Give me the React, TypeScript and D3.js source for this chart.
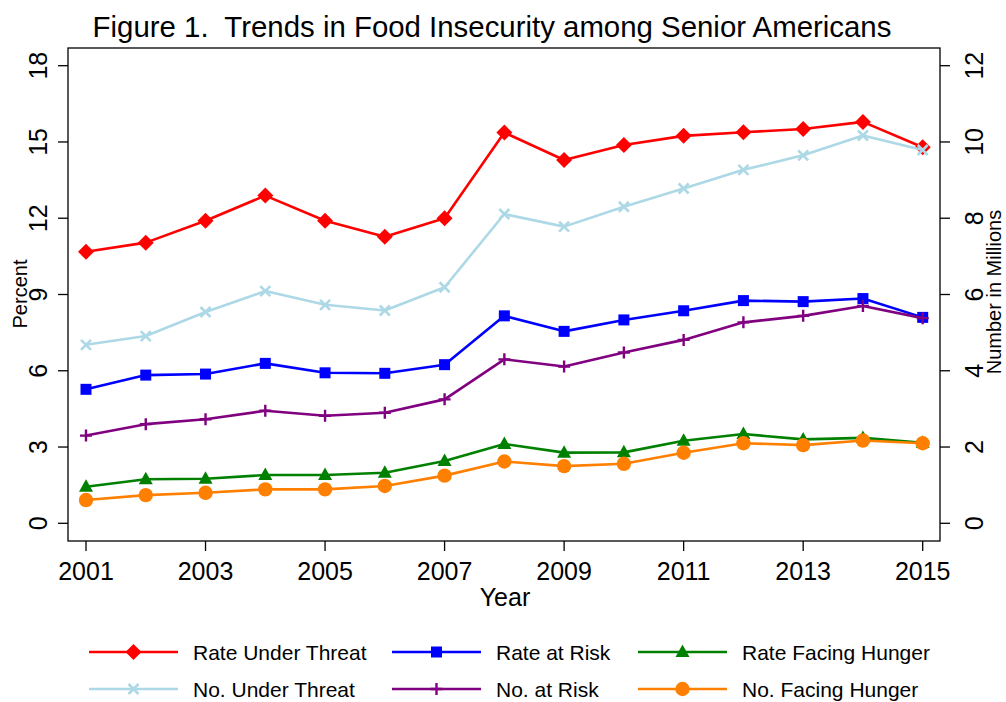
import React, { useEffect, useRef } from 'react';
import * as d3 from 'd3';

// Years on the x axis.
const years = [2001, 2002, 2003, 2004, 2005, 2006, 2007, 2008, 2009, 2010, 2011, 2012, 2013, 2014, 2015];

// Rates (percent, left axis).
const rateUnderThreat = [10.68, 11.04, 11.9, 12.89, 11.9, 11.27, 12.0, 15.37, 14.29, 14.88, 15.24, 15.38, 15.51, 15.79, 14.79];
const rateAtRisk = [5.27, 5.83, 5.87, 6.29, 5.92, 5.9, 6.24, 8.16, 7.55, 8.0, 8.36, 8.76, 8.72, 8.84, 8.1];
const rateFacingHunger = [1.44, 1.73, 1.75, 1.9, 1.9, 1.99, 2.45, 3.12, 2.78, 2.79, 3.25, 3.51, 3.3, 3.36, 3.17];

// Numbers (millions, right axis).
const noUnderThreat = [4.68, 4.91, 5.54, 6.09, 5.73, 5.58, 6.19, 8.11, 7.78, 8.3, 8.78, 9.27, 9.65, 10.17, 9.79];
const noAtRisk = [2.3, 2.6, 2.73, 2.95, 2.82, 2.9, 3.25, 4.3, 4.11, 4.48, 4.81, 5.27, 5.44, 5.7, 5.38];
const noFacingHunger = [0.61, 0.74, 0.8, 0.89, 0.89, 0.98, 1.25, 1.62, 1.5, 1.56, 1.85, 2.1, 2.05, 2.17, 2.1];

const xTicks = [2001, 2003, 2005, 2007, 2009, 2011, 2013, 2015];
const leftTicks = [0, 3, 6, 9, 12, 15, 18];
const rightTicks = [0, 2, 4, 6, 8, 10, 12];

type Marker = 'diamond' | 'square' | 'triangle' | 'times' | 'plus' | 'circle';

const series: { label: string; values: number[]; axis: 'left' | 'right'; color: string; marker: Marker }[] = [
  { label: 'Rate Under Threat', values: rateUnderThreat, axis: 'left', color: '#ff0000', marker: 'diamond' },
  { label: 'Rate at Risk', values: rateAtRisk, axis: 'left', color: '#0000ff', marker: 'square' },
  { label: 'Rate Facing Hunger', values: rateFacingHunger, axis: 'left', color: '#008000', marker: 'triangle' },
  { label: 'No. Under Threat', values: noUnderThreat, axis: 'right', color: '#add8e6', marker: 'times' },
  { label: 'No. at Risk', values: noAtRisk, axis: 'right', color: '#800080', marker: 'plus' },
  { label: 'No. Facing Hunger', values: noFacingHunger, axis: 'right', color: '#ff8000', marker: 'circle' },
];

const FONT = '"Liberation Sans", Arial, sans-serif';

function drawMarker(g, kind: Marker, color: string) {
  if (kind === 'diamond') {
    g.append('path').attr('d', 'M0,-8L8,0L0,8L-8,0Z').attr('fill', color);
  } else if (kind === 'square') {
    g.append('rect').attr('x', -5.5).attr('y', -5.5).attr('width', 11).attr('height', 11).attr('fill', color);
  } else if (kind === 'triangle') {
    g.append('path').attr('d', 'M0,-7.5L7,5L-7,5Z').attr('fill', color);
  } else if (kind === 'circle') {
    g.append('circle').attr('r', 7.2).attr('fill', color);
  } else if (kind === 'times') {
    g.append('path')
      .attr('d', 'M-5,-5L5,5M-5,5L5,-5')
      .attr('stroke', color)
      .attr('stroke-width', 2.6)
      .attr('fill', 'none');
  } else {
    g.append('path')
      .attr('d', 'M-6,0L6,0M0,-6L0,6')
      .attr('stroke', color)
      .attr('stroke-width', 2.4)
      .attr('fill', 'none');
  }
}

export default function App() {
  const ref = useRef<SVGSVGElement>(null);

  useEffect(() => {
    const svg = d3.select(ref.current);
    svg.selectAll('*').remove();

    const plot = { left: 68, right: 940, top: 48, bottom: 541 };

    const x = d3.scaleLinear().domain([2001, 2015]).range([86, 922.7]);
    const yLeft = d3.scaleLinear().domain([0, 18]).range([523.3, 65.7]);
    const yRight = d3.scaleLinear().domain([0, 12]).range([523.3, 65.7]);

    // Title
    svg
      .append('text')
      .attr('x', 492)
      .attr('y', 37)
      .attr('text-anchor', 'middle')
      .style('font-size', '29.4px')
      .style('white-space', 'pre')
      .text('Figure 1.  Trends in Food Insecurity among Senior Americans');

    // Plot frame
    svg
      .append('rect')
      .attr('x', plot.left)
      .attr('y', plot.top)
      .attr('width', plot.right - plot.left)
      .attr('height', plot.bottom - plot.top)
      .attr('fill', 'none')
      .attr('stroke', '#000')
      .attr('stroke-width', 1.3);

    // Left axis
    const left = svg.append('g');
    left
      .selectAll('line')
      .data(leftTicks)
      .enter()
      .append('line')
      .attr('x1', plot.left - 10)
      .attr('x2', plot.left)
      .attr('y1', (d) => yLeft(d))
      .attr('y2', (d) => yLeft(d))
      .attr('stroke', '#000')
      .attr('stroke-width', 1.3);
    left
      .selectAll('text')
      .data(leftTicks)
      .enter()
      .append('text')
      .attr('transform', (d) => `translate(47,${yLeft(d)}) rotate(-90)`)
      .attr('text-anchor', 'middle')
      .style('font-size', '25px')
      .text((d) => d);

    // Right axis
    const right = svg.append('g');
    right
      .selectAll('line')
      .data(rightTicks)
      .enter()
      .append('line')
      .attr('x1', plot.right)
      .attr('x2', plot.right + 10)
      .attr('y1', (d) => yRight(d))
      .attr('y2', (d) => yRight(d))
      .attr('stroke', '#000')
      .attr('stroke-width', 1.3);
    right
      .selectAll('text')
      .data(rightTicks)
      .enter()
      .append('text')
      .attr('transform', (d) => `translate(983,${yRight(d)}) rotate(-90)`)
      .attr('text-anchor', 'middle')
      .style('font-size', '25px')
      .text((d) => d);

    // Bottom axis
    const bottom = svg.append('g');
    bottom
      .selectAll('line')
      .data(xTicks)
      .enter()
      .append('line')
      .attr('x1', (d) => x(d))
      .attr('x2', (d) => x(d))
      .attr('y1', plot.bottom)
      .attr('y2', plot.bottom + 10)
      .attr('stroke', '#000')
      .attr('stroke-width', 1.3);
    bottom
      .selectAll('text')
      .data(xTicks)
      .enter()
      .append('text')
      .attr('x', (d) => x(d))
      .attr('y', 580)
      .attr('text-anchor', 'middle')
      .style('font-size', '25px')
      .text((d) => d);

    // Axis titles
    svg
      .append('text')
      .attr('x', 505)
      .attr('y', 606)
      .attr('text-anchor', 'middle')
      .style('font-size', '25px')
      .text('Year');
    svg
      .append('text')
      .attr('transform', 'translate(27,294) rotate(-90)')
      .attr('text-anchor', 'middle')
      .style('font-size', '20px')
      .text('Percent');
    svg
      .append('text')
      .attr('transform', 'translate(1001,292) rotate(-90)')
      .attr('text-anchor', 'middle')
      .style('font-size', '20px')
      .text('Number in Millions');

    // Series
    series.forEach((s) => {
      const yScale = s.axis === 'left' ? yLeft : yRight;
      const line = d3
        .line<number>()
        .x((_, i) => x(years[i]))
        .y((d) => yScale(d));
      svg
        .append('path')
        .attr('d', line(s.values))
        .attr('fill', 'none')
        .attr('stroke', s.color)
        .attr('stroke-width', 2.6)
        .attr('stroke-linejoin', 'round');
      s.values.forEach((v, i) => {
        const g = svg.append('g').attr('transform', `translate(${x(years[i])},${yScale(v)})`);
        drawMarker(g, s.marker, s.color);
      });
    });

    // Legend, 3 columns x 2 rows
    const colX = [89, 392, 638];
    const rowY = [652, 689];
    series.forEach((s, i) => {
      const cx = colX[i % 3];
      const cy = rowY[Math.floor(i / 3)];
      const item = svg.append('g').attr('transform', `translate(${cx},${cy})`);
      item
        .append('line')
        .attr('x1', 0)
        .attr('x2', 89)
        .attr('stroke', s.color)
        .attr('stroke-width', 2.6);
      drawMarker(item.append('g').attr('transform', 'translate(44.5,0)'), s.marker, s.color);
      item
        .append('text')
        .attr('x', 104)
        .attr('y', 7.5)
        .style('font-size', '21px')
        .text(s.label);
    });
  }, []);

  return (
    <div style={{ position: 'fixed', left: 0, top: 0 }}>
      <svg
        ref={ref}
        width={1006}
        height={702}
        style={{ display: 'block', background: '#fff', fontFamily: FONT }}
      />
    </div>
  );
}
